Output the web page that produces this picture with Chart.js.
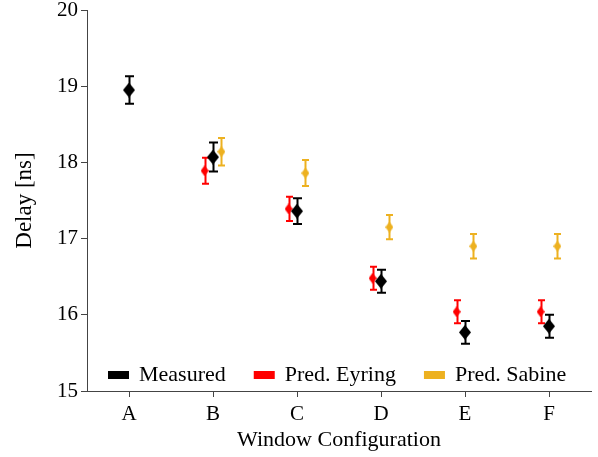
<!DOCTYPE html>
<html>
<head>
<meta charset="utf-8">
<script src="https://cdn.jsdelivr.net/npm/chart.js@4"></script>
<style>
  html, body { margin: 0; padding: 0; background: #fff; }
  #wrap { width: 598px; height: 457px; }
</style>
</head>
<body>
<div id="wrap"><canvas id="delayChart"></canvas></div>
<script>
// Window configurations (x axis)
const categories = ['A', 'B', 'C', 'D', 'E', 'F'];
const yTicks = [15, 16, 17, 18, 19, 20];

// Delay values in ns, with +/- error
const measured = [18.95, 18.07, 17.36, 16.44, 15.77, 15.85];
const measuredErr = [0.18, 0.19, 0.17, 0.15, 0.15, 0.15];
const eyring = [null, 17.89, 17.39, 16.48, 16.04, 16.04];
const eyringErr = [null, 0.17, 0.16, 0.15, 0.15, 0.15];
const sabine = [null, 18.14, 17.86, 17.15, 16.90, 16.90];
const sabineErr = [null, 0.18, 0.17, 0.16, 0.16, 0.16];

const FONT = '"Liberation Serif", "Times New Roman", serif';

// Diamond marker drawn on a small canvas, used as pointStyle
function makeDiamond(w, h, color) {
    const c = document.createElement('canvas');
    c.width = w;
    c.height = h;
    const g = c.getContext('2d');
    g.fillStyle = color;
    g.beginPath();
    g.moveTo(w / 2, 0);
    g.lineTo(w, h / 2);
    g.lineTo(w / 2, h);
    g.lineTo(0, h / 2);
    g.closePath();
    g.fill();
    return c;
}

// Build {x, y} points, shifting each series sideways a bit
function toPoints(values, shift) {
    const pts = [];
    values.forEach((v, i) => {
        if (v !== null) pts.push({ x: i + shift, y: v });
    });
    return pts;
}

function toErrors(errs) {
    return errs.filter(e => e !== null);
}

const datasets = [
    {
        label: 'Measured',
        data: toPoints(measured, 0),
        errors: toErrors(measuredErr),
        color: '#000000',
        capWidth: 9,
        pointStyle: makeDiamond(12, 15, '#000000'),
        order: 0
    },
    {
        label: 'Pred. Eyring',
        data: toPoints(eyring, -0.1),
        errors: toErrors(eyringErr),
        color: '#ff0000',
        capWidth: 7,
        pointStyle: makeDiamond(8, 11, '#ff0000'),
        order: 1
    },
    {
        label: 'Pred. Sabine',
        data: toPoints(sabine, 0.1),
        errors: toErrors(sabineErr),
        color: '#EDB120',
        capWidth: 7,
        pointStyle: makeDiamond(8, 11, '#EDB120'),
        order: 1
    }
];

// Error bars, drawn under the markers
const errorBars = {
    id: 'errorBars',
    beforeDatasetsDraw(chart) {
        const ctx = chart.ctx;
        const xs = chart.scales.x;
        const ys = chart.scales.y;
        ctx.save();
        ctx.lineWidth = 2;
        chart.data.datasets.forEach(ds => {
            ctx.strokeStyle = ds.color;
            ds.data.forEach((p, i) => {
                const e = ds.errors[i];
                const px = Math.round(xs.getPixelForValue(p.x)) + 0.5;
                const top = ys.getPixelForValue(p.y + e);
                const bot = ys.getPixelForValue(p.y - e);
                const half = ds.capWidth / 2;
                ctx.beginPath();
                ctx.moveTo(px, top);
                ctx.lineTo(px, bot);
                ctx.moveTo(px - half, top);
                ctx.lineTo(px + half, top);
                ctx.moveTo(px - half, bot);
                ctx.lineTo(px + half, bot);
                ctx.stroke();
            });
        });
        ctx.restore();
    }
};

// Legend in one row inside the bottom of the plot
const insideLegend = {
    id: 'insideLegend',
    afterDraw(chart) {
        const ctx = chart.ctx;
        const area = chart.chartArea;
        ctx.save();
        ctx.font = '22px ' + FONT;
        ctx.textBaseline = 'middle';
        let x = area.left + 21;
        const y = area.bottom - 16;
        chart.data.datasets.forEach(ds => {
            ctx.fillStyle = ds.color;
            ctx.fillRect(x, y - 4, 21, 8);
            x += 31;
            ctx.fillStyle = '#000';
            ctx.fillText(ds.label, x, y);
            x += ctx.measureText(ds.label).width + 28;
        });
        ctx.restore();
    }
};

new Chart(document.getElementById('delayChart'), {
    type: 'scatter',
    data: { datasets: datasets },
    options: {
        responsive: true,
        maintainAspectRatio: false,
        animation: false,
        layout: { padding: { left: 0, top: 10, right: 7, bottom: 0 } },
        elements: {
            point: { radius: 6, hoverRadius: 6 }
        },
        plugins: {
            legend: { display: false },
            tooltip: { enabled: false }
        },
        scales: {
            x: {
                type: 'linear',
                min: -0.5,
                max: 5.5,
                afterBuildTicks: scale => {
                    scale.ticks = categories.map((c, i) => ({ value: i }));
                },
                ticks: {
                    callback: v => categories[v],
                    color: '#000',
                    padding: 5,
                    font: { family: FONT, size: 21 }
                },
                grid: {
                    display: true,
                    drawOnChartArea: false,
                    tickLength: 6,
                    color: '#444'
                },
                border: { display: true, color: '#444', width: 1 },
                title: {
                    display: true,
                    text: 'Window Configuration',
                    color: '#000',
                    padding: { top: 0, bottom: 4 },
                    font: { family: FONT, size: 22 }
                },
                afterFit: scale => {
                    scale.height = 66;
                    scale.paddingLeft = 0;
                    scale.paddingRight = 0;
                }
            },
            y: {
                min: 15,
                max: 20,
                afterBuildTicks: scale => {
                    scale.ticks = yTicks.map(v => ({ value: v }));
                },
                ticks: {
                    color: '#000',
                    padding: 3,
                    font: { family: FONT, size: 21 }
                },
                grid: {
                    display: true,
                    drawOnChartArea: false,
                    tickLength: 6,
                    color: '#444'
                },
                border: { display: true, color: '#444', width: 1 },
                title: {
                    display: true,
                    text: 'Delay [ns]',
                    color: '#000',
                    padding: { top: 11, bottom: 0 },
                    font: { family: FONT, size: 23 }
                },
                afterFit: scale => {
                    scale.width = 87;
                    scale.paddingTop = 0;
                    scale.paddingBottom = 0;
                }
            }
        }
    },
    plugins: [errorBars, insideLegend]
});
</script>
</body>
</html>
